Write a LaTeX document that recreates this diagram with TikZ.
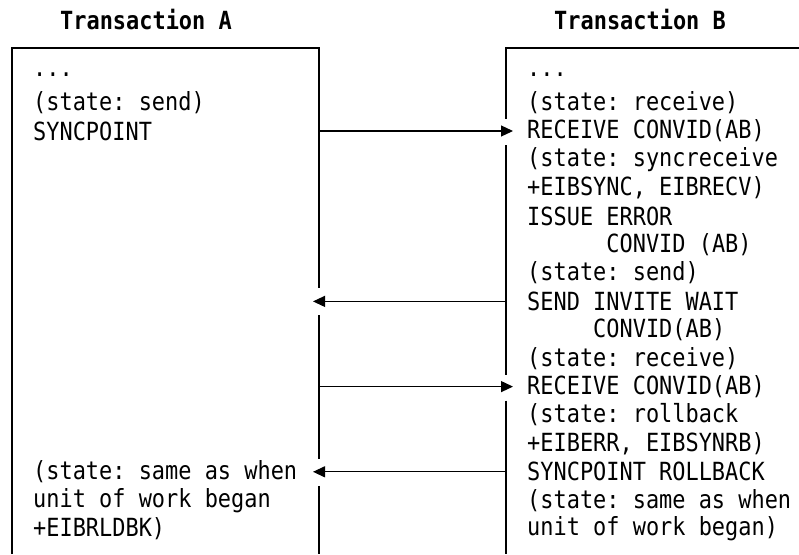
\documentclass[tikz,border=0pt]{standalone}
\usepackage{fontspec}
\setmonofont[FakeStretch=0.877]{DejaVu Sans Mono}
\usetikzlibrary{arrows.meta}
\tikzset{
  txt/.style={anchor=west, inner sep=0pt, font=\ttfamily\fontsize{25}{28}\selectfont},
  ttl/.style={inner sep=0pt, font=\ttfamily\bfseries\fontsize{25}{28}\selectfont},
  boxline/.style={line width=1.2pt},
  msg/.style={line width=1.2pt, -{Triangle[length=12pt,width=11pt]}}
}
\newcommand{\ry}[1]{74.2+28.4*#1}
\begin{document}
\begin{tikzpicture}[x=1pt,y=-1pt]
\useasboundingbox (0,0) rectangle (799,554);
% titles
\node[ttl] (ta) at (146,20) {Transaction A};
\node[ttl] (tb) at (640,20) {Transaction B};
% left text
\node[txt] (a0) at (33,{\ry{0}}) {...};
\node[txt] (a1) at (33,{\ry{1}}) {(state: send)};
\node[txt] (a2) at (33,{\ry{2}}) {SYNCPOINT};
\node[txt] (a14) at (33,{\ry{14}}) {(state: same as when};
\node[txt] (a15) at (33,{\ry{15}}) {unit of work began};
\node[txt] (a16) at (33,{\ry{16}}) {+EIBRLDBK)};
% right text
\node[txt] (b0) at (527,{\ry{0}}) {...};
\node[txt] (b1) at (527,{\ry{1}}) {(state: receive)};
\node[txt] (b2) at (527,{\ry{2}}) {RECEIVE CONVID(AB)};
\node[txt] (b3) at (527,{\ry{3}}) {(state: syncreceive};
\node[txt] (b4) at (527,{\ry{4}}) {+EIBSYNC, EIBRECV)};
\node[txt] (b5) at (527,{\ry{5}}) {ISSUE ERROR};
\node[txt] (b6) at (527,{\ry{6}}) {\ \ \ \ \ \ CONVID (AB)};
\node[txt] (b7) at (527,{\ry{7}}) {(state: send)};
\node[txt] (b8) at (527,{\ry{8}}) {SEND INVITE WAIT};
\node[txt] (b9) at (527,{\ry{9}}) {\ \ \ \ \ CONVID(AB)};
\node[txt] (b10) at (527,{\ry{10}}) {(state: receive)};
\node[txt] (b11) at (527,{\ry{11}}) {RECEIVE CONVID(AB)};
\node[txt] (b12) at (527,{\ry{12}}) {(state: rollback};
\node[txt] (b13) at (527,{\ry{13}}) {+EIBERR, EIBSYNRB)};
\node[txt] (b14) at (527,{\ry{14}}) {SYNCPOINT ROLLBACK};
\node[txt] (b15) at (527,{\ry{15}}) {(state: same as when};
\node[txt] (b16) at (527,{\ry{16}}) {unit of work began)};
% connector endpoints on box edges
\coordinate (l2) at (319,{\ry{2}});
\coordinate (l8) at (313,{\ry{8}});
\coordinate (l11) at (319,{\ry{11}});
\coordinate (l14) at (313,{\ry{14}});
\coordinate (r2) at (513,{\ry{2}});
\coordinate (r8) at (506,{\ry{8}});
\coordinate (r11) at (513,{\ry{11}});
\coordinate (r14) at (506,{\ry{14}});
% left box
\draw[boxline] (12,554) -- (12,48) -- (319,48) -- (319,{\ry{8}-13});
\draw[boxline] (319,{\ry{8}+14}) -- (319,{\ry{14}-13});
\draw[boxline] (319,{\ry{14}+14}) -- (319,554);
% right box
\draw[boxline] (799,48) -- (506,48) -- (506,{\ry{2}-12});
\draw[boxline] (506,{\ry{2}+14}) -- (506,{\ry{11}-12});
\draw[boxline] (506,{\ry{11}+14}) -- (506,554);
% messages
\draw[msg] (l2) -- (r2);
\draw[msg] (r8) -- (l8);
\draw[msg] (l11) -- (r11);
\draw[msg] (r14) -- (l14);
\end{tikzpicture}
\end{document}
